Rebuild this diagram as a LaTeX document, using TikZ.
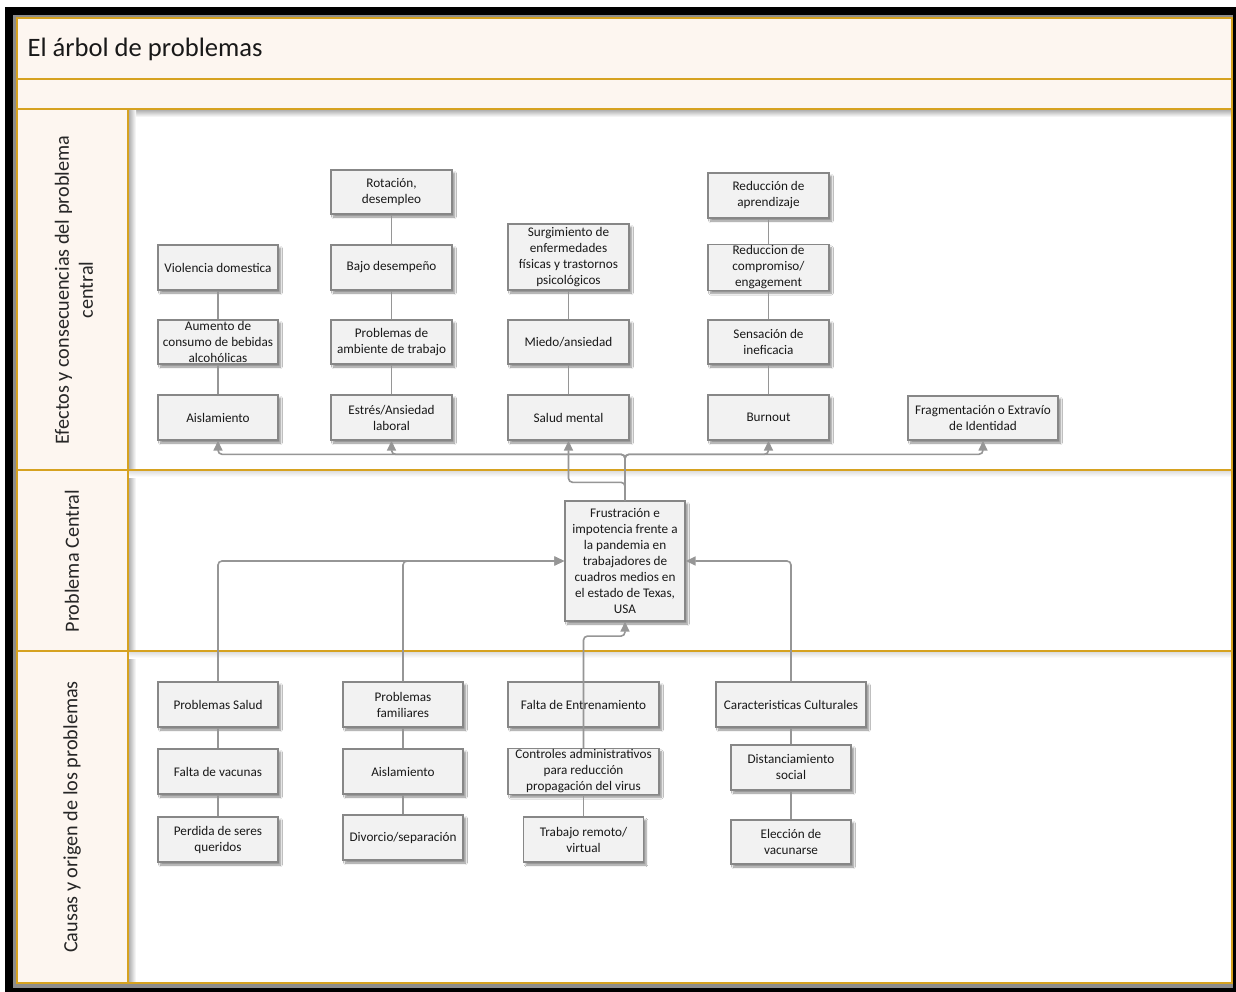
\documentclass[tikz,border=0pt]{standalone}
\usepackage{fontspec}
\setmainfont{Carlito}
\usetikzlibrary{arrows.meta,shadows.blur}
\definecolor{cream}{RGB}{253,246,240}
\definecolor{gold}{RGB}{214,162,32}
\definecolor{boxfill}{RGB}{242,242,242}
\definecolor{boxline}{RGB}{135,135,135}
\definecolor{connc}{RGB}{150,150,150}
\begin{document}
\begin{tikzpicture}[x=1pt,y=-1pt,
 box/.style={draw=boxline, fill=boxfill, line width=1.4pt, align=center, inner sep=1pt,
   font=\fontsize{13.2}{16}\selectfont, text=black!90,
   blur shadow={shadow xshift=2.5pt, shadow yshift=-3pt, shadow opacity=45, shadow blur steps=6}},
 connl/.style={draw=connc, line width=1.6pt, rounded corners=4pt},
 arr/.style={connl, -{Triangle[length=10pt,width=9pt]}},
 laneline/.style={draw=gold, line width=2.5pt},
 lbl/.style={rotate=90, align=center, font=\fontsize{20.2}{24}\selectfont, text=black!85}
]
\useasboundingbox (0,0) rectangle (1236,992);
% frame and pool
\fill[black] (5,7) rectangle (1236,992);
\fill[black!45] (13,15) rectangle (1233,988);
\fill[cream] (17,18) rectangle (1232,109);
\fill[cream] (17,109) rectangle (128,983);
\fill[white] (128,109) rectangle (1232,983);
\shade[top color=black!35, bottom color=white] (128,109) rectangle (1232,117);
\shade[left color=black!35, right color=white] (128,109) rectangle (136,983);
\shade[top color=black!15, bottom color=white] (128,470) rectangle (1232,477);
\shade[top color=black!15, bottom color=white] (128,651) rectangle (1232,658);
\draw[laneline] (17,18) rectangle (1232,983);
\draw[laneline] (17,79) -- (1232,79);
\draw[laneline] (17,109) -- (1232,109);
\draw[laneline] (17,470) -- (1232,470);
\draw[laneline] (17,651) -- (1232,651);
\draw[laneline] (128,109) -- (128,983);
% title and lane labels
\node[anchor=west, font=\fontsize{26.6}{30}\selectfont, text=black!90] (title) at (24,49) {El árbol de problemas};
\node[lbl] (l1) at (74,290) {Efectos y consecuencias del problema\\central};
\node[lbl] (l2) at (72,561) {Problema Central};
\node[lbl] (l3) at (72,817) {Causas y origen de los problemas};
% effects
\node[box, minimum width=121pt, minimum height=44pt] (rot) at (391.5,192) {Rotación,\\desempleo};
\node[box, minimum width=120pt, minimum height=45pt] (viol) at (218,267.5) {Violencia domestica};
\node[box, minimum width=121pt, minimum height=45pt] (bajo) at (391.5,267.5) {Bajo desempeño};
\node[box, minimum width=120pt, minimum height=44pt] (aum) at (218,342) {Aumento de\\consumo de bebidas\\alcohólicas};
\node[box, minimum width=121pt, minimum height=44pt] (amb) at (391.5,342) {Problemas de\\ambiente de trabajo};
\node[box, minimum width=120pt, minimum height=45pt] (ais1) at (218,417.5) {Aislamiento};
\node[box, minimum width=121pt, minimum height=45pt] (estr) at (391.5,417.5) {Estrés/Ansiedad\\laboral};
\node[box, minimum width=121pt, minimum height=66pt] (surg) at (568.5,257) {Surgimiento de\\enfermedades\\físicas y trastornos\\psicológicos};
\node[box, minimum width=121pt, minimum height=44pt] (miedo) at (568.5,342) {Miedo/ansiedad};
\node[box, minimum width=121pt, minimum height=45pt] (salud) at (568.5,417.5) {Salud mental};
\node[box, minimum width=121pt, minimum height=45pt] (redap) at (768.5,195.5) {Reducción de\\aprendizaje};
\node[box, minimum width=121pt, minimum height=45pt] (redco) at (768.5,267.5) {Reduccion de\\compromiso/\\engagement};
\node[box, minimum width=121pt, minimum height=44pt] (sens) at (768.5,342) {Sensación de\\ineficacia};
\node[box, minimum width=121pt, minimum height=45pt] (burn) at (768.5,417.5) {Burnout};
\node[box, minimum width=150pt, minimum height=44pt] (frag) at (983,418) {Fragmentación o Extravío\\de Identidad};
% central
\node[box, minimum width=120pt, minimum height=120pt] (central) at (625,561) {Frustración e\\impotencia frente a\\la pandemia en\\trabajadores de\\cuadros medios en\\el estado de Texas,\\USA};
% causes
\node[box, minimum width=120pt, minimum height=45pt] (psal) at (218,704.5) {Problemas Salud};
\node[box, minimum width=120pt, minimum height=45pt] (fvac) at (218,771.5) {Falta de vacunas};
\node[box, minimum width=120pt, minimum height=45pt] (perd) at (218,839.5) {Perdida de seres\\queridos};
\node[box, minimum width=120pt, minimum height=45pt] (pfam) at (403,704.5) {Problemas\\familiares};
\node[box, minimum width=120pt, minimum height=45pt] (ais2) at (403,771.5) {Aislamiento};
\node[box, minimum width=120pt, minimum height=45pt] (div) at (403,837.5) {Divorcio/separación};
\node[box, minimum width=151pt, minimum height=45pt] (fent) at (583.5,704.5) {Falta de Entrenamiento};
\node[box, minimum width=151pt, minimum height=45pt] (ctrl) at (583.5,771.5) {Controles administrativos\\para reducción\\propagación del virus};
\node[box, minimum width=120pt, minimum height=45pt] (trab) at (583.5,839.5) {Trabajo remoto/\\virtual};
\node[box, minimum width=150pt, minimum height=45pt] (carc) at (791,704.5) {Caracteristicas Culturales};
\node[box, minimum width=120pt, minimum height=45pt] (dist) at (791,767.5) {Distanciamiento\\social};
\node[box, minimum width=120pt, minimum height=44pt] (elec) at (791,842) {Elección de\\vacunarse};
% vertical links
\draw[connl] (rot) -- (bajo);
\draw[connl] (bajo) -- (amb);
\draw[connl] (amb) -- (estr);
\draw[connl] (viol) -- (aum);
\draw[connl] (aum) -- (ais1);
\draw[connl] (surg) -- (miedo);
\draw[connl] (miedo) -- (salud);
\draw[connl] (redap) -- (redco);
\draw[connl] (redco) -- (sens);
\draw[connl] (sens) -- (burn);
\draw[connl] (psal) -- (fvac);
\draw[connl] (fvac) -- (perd);
\draw[connl] (pfam) -- (ais2);
\draw[connl] (ais2) -- (div);
\draw[connl] (fent) -- (ctrl);
\draw[connl] (ctrl) -- (trab);
\draw[connl] (carc) -- (dist);
\draw[connl] (dist) -- (elec);
% effects arrows
\draw[arr] (central.north) -- ++(0,-46) -| (ais1.south);
\draw[arr] (central.north) -- ++(0,-46) -| (estr.south);
\draw[arr] (central.north) -- ++(0,-18) -| (salud.south);
\draw[arr] (central.north) -- ++(0,-46) -| (burn.south);
\draw[arr] (central.north) -- ++(0,-46) -| (frag.south);
% causes arrows
\draw[arr] (psal.north) |- (central.west);
\draw[arr] (pfam.north) |- (central.west);
\draw[arr] (carc.north) |- (central.east);
\draw[arr] (ctrl.north) -- ++(0,-112) -| (central.south);
\end{tikzpicture}
\end{document}
